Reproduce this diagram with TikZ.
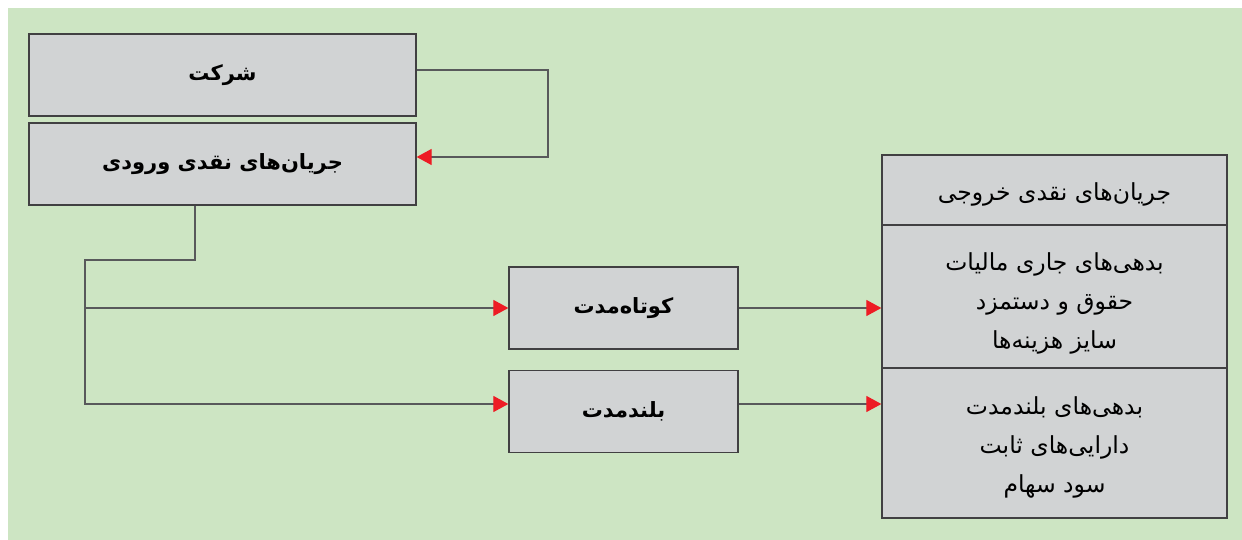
\documentclass[tikz,border=0pt]{standalone}
\usepackage{fontspec}
\usetikzlibrary{arrows.meta}
\TeXXeTstate=1
\newfontfamily\fa[Script=Arabic]{DejaVu Sans}
\definecolor{bggreen}{HTML}{CDE5C3}
\definecolor{boxgray}{HTML}{D1D3D4}
\definecolor{edgegray}{HTML}{414042}
\definecolor{wiregray}{HTML}{58595B}
\definecolor{tipred}{HTML}{ED1C24}
\tikzset{
  box/.style={draw=edgegray, line width=1.3pt, fill=boxgray, rectangle,
    inner sep=0pt, align=center},
  boldlabel/.style={font=\fa\bfseries\fontsize{21}{28}\selectfont},
  plainlabel/.style={font=\fa\fontsize{23.5}{39}\selectfont},
  wire/.style={draw=wiregray, line width=1.2pt},
  flow/.style={wire, -{Triangle[length=15pt,width=16pt,color=tipred,fill=tipred]}},
}
\begin{document}
\begin{tikzpicture}[x=1pt,y=-1pt]
  \useasboundingbox (0,0) rectangle (1242,540);
  \fill[white] (0,0) rectangle (1242,540);
  \fill[bggreen] (8,8) rectangle (1242,540);

  % inflow side
  \node[box, boldlabel, minimum width=387pt, minimum height=82pt] (company) at (222.5,75)
    {\beginR شرکت\endR};
  \node[box, boldlabel, minimum width=387pt, minimum height=82pt] (inflow) at (222.5,164)
    {\beginR جریان‌های نقدی ورودی\endR};

  % horizon boxes
  \node[box, boldlabel, minimum width=229pt, minimum height=82pt] (short) at (623.5,308)
    {\beginR کوتاه‌مدت\endR};
  \node[box, boldlabel, minimum width=229pt, minimum height=82pt] (long) at (623.5,411.5)
    {\beginR بلندمدت\endR};

  % outflow table
  \node[box, minimum width=345pt, minimum height=70pt] (outhead) at (1054.5,190) {};
  \node[box, minimum width=345pt, minimum height=143pt] (outshort) at (1054.5,296.5) {};
  \node[box, minimum width=345pt, minimum height=150pt] (outlong) at (1054.5,443) {};
  \node[plainlabel, align=center] (headtext) at ([yshift=-4pt]outhead.center)
    {\beginR جریان‌های نقدی خروجی\endR};
  \node[plainlabel, align=center] (shorttext) at ([yshift=-7pt]outshort.center)
    {\beginR بدهی‌های جاری مالیات\endR\\ \beginR حقوق و دستمزد\endR\\ \beginR سایز هزینه‌ها\endR};
  \node[plainlabel, align=center] (longtext) at ([yshift=-4pt]outlong.center)
    {\beginR بدهی‌های بلندمدت\endR\\ \beginR دارایی‌های ثابت\endR\\ \beginR سود سهام\endR};

  % connectors
  \coordinate (loop) at (548,70);
  \coordinate (drop) at (195,260);
  \coordinate (trunk) at (85,260);

  \draw[flow] ([yshift=5pt]company.east) -- (loop) |- ([yshift=7pt]inflow.east);
  \draw[flow] (inflow.south -| drop) |- (trunk) |- ([yshift=7.5pt]long.west);
  \draw[flow] (trunk |- short.west) -- (short.west);
  \draw[flow] (short.east) -- (short.east -| outshort.west);
  \draw[flow] ([yshift=7.5pt]long.east) -- ([yshift=7.5pt]long.east -| outlong.west);
\end{tikzpicture}
\end{document}
